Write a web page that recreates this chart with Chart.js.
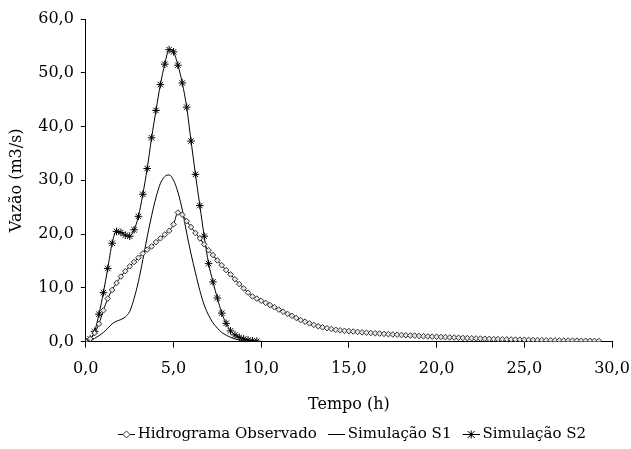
<!DOCTYPE html>
<html>
<head>
<meta charset="utf-8">
<script src="https://cdn.jsdelivr.net/npm/chart.js@4.4.1/dist/chart.umd.min.js"></script>
<style>
  html, body { margin: 0; padding: 0; background: #fff; }
  #wrap { width: 631px; height: 449px; }
</style>
</head>
<body>
<div id="wrap"><canvas id="c" width="631" height="449"></canvas></div>
<script>
// Time (h), 15-minute steps
const tempo = [
  0, 0.25, 0.5, 0.75, 1, 1.25, 1.5, 1.75, 2, 2.25, 2.5, 2.75, 3, 3.25, 3.5, 3.75,
  4, 4.25, 4.5, 4.75, 5, 5.25, 5.5, 5.75, 6, 6.25, 6.5, 6.75, 7, 7.25, 7.5, 7.75,
  8, 8.25, 8.5, 8.75, 9, 9.25, 9.5, 9.75, 10, 10.25, 10.5, 10.75, 11, 11.25, 11.5, 11.75,
  12, 12.25, 12.5, 12.75, 13, 13.25, 13.5, 13.75, 14, 14.25, 14.5, 14.75, 15, 15.25, 15.5, 15.75,
  16, 16.25, 16.5, 16.75, 17, 17.25, 17.5, 17.75, 18, 18.25, 18.5, 18.75, 19, 19.25, 19.5, 19.75,
  20, 20.25, 20.5, 20.75, 21, 21.25, 21.5, 21.75, 22, 22.25, 22.5, 22.75, 23, 23.25, 23.5, 23.75,
  24, 24.25, 24.5, 24.75, 25, 25.25, 25.5, 25.75, 26, 26.25, 26.5, 26.75, 27, 27.25, 27.5, 27.75,
  28, 28.25, 28.5, 28.75, 29, 29.25
];

// Hidrograma Observado (m3/s)
const observado = [
  0, 0.5, 1.6, 3.3, 5.8, 8.0, 9.6, 10.9, 12.1, 13.1, 14.0, 14.8, 15.6, 16.4, 17.1, 17.7,
  18.5, 19.2, 19.9, 20.6, 21.8, 24.0, 23.6, 22.4, 21.3, 20.2, 19.2, 18.1, 17.0, 16.1, 15.1, 14.2,
  13.3, 12.5, 11.6, 10.7, 9.9, 9.1, 8.4, 8.0, 7.6, 7.2, 6.8, 6.4, 5.95, 5.55, 5.15, 4.8,
  4.4, 4.0, 3.7, 3.4, 3.1, 2.85, 2.65, 2.5, 2.35, 2.2, 2.1, 2.0, 1.95, 1.88, 1.8, 1.72,
  1.65, 1.6, 1.55, 1.5, 1.43, 1.38, 1.33, 1.28, 1.22, 1.18, 1.14, 1.1, 1.05, 1.0, 0.96, 0.92,
  0.9, 0.86, 0.82, 0.78, 0.75, 0.72, 0.68, 0.65, 0.62, 0.59, 0.56, 0.53, 0.5, 0.48, 0.46, 0.44,
  0.42, 0.4, 0.38, 0.36, 0.34, 0.32, 0.3, 0.28, 0.26, 0.25, 0.24, 0.22, 0.21, 0.2, 0.19, 0.18,
  0.17, 0.16, 0.15, 0.14, 0.13, 0.12
];

// Simulação S1 (m3/s), from t = 0 to 9.5 h
const simulacaoS1 = [
  0, 0.2, 0.6, 1.1, 1.7, 2.5, 3.3, 3.8, 4.1, 4.6, 5.6, 8.0, 11.2, 15.2, 19.5, 23.4,
  26.8, 29.4, 30.7, 31.0, 30.0, 27.8, 24.5, 20.2, 16.3, 12.8, 9.5, 6.8, 4.9, 3.5, 2.5, 1.7,
  1.2, 0.8, 0.5, 0.3, 0.15, 0.05, 0
];

// Simulação S2 (m3/s), from t = 0 to 9.75 h
const simulacaoS2 = [
  0, 0.5, 1.9, 5.1, 9.1, 13.6, 18.3, 20.5, 20.3, 19.8, 19.6, 20.8, 23.3, 27.4, 32.2, 37.9,
  43.0, 47.8, 51.6, 54.3, 53.9, 51.4, 48.1, 43.6, 37.3, 31.1, 25.3, 19.6, 14.5, 11.1, 8.1, 5.3,
  3.4, 2.0, 1.25, 0.8, 0.5, 0.3, 0.15, 0.1
];

const seriesNames = ['Hidrograma Observado', 'Simulação S1', 'Simulação S2'];
const xTitle = 'Tempo (h)';
const yTitle = 'Vazão (m3/s)';

function pts(vals) {
  return vals.map((v, i) => ({ x: tempo[i], y: v }));
}
function fmt(v) { return Number(v).toFixed(1).replace('.', ','); }

const FONT = "'DejaVu Serif', 'Liberation Serif', serif";

// Legend swatches: a short line with the series marker on it (drawn in the right 17 px)
function swatch(kind) {
  const w = 28, h = 11, sw = 17;
  const c = document.createElement('canvas');
  c.width = w; c.height = h;
  const g = c.getContext('2d');
  const x0 = w - sw;
  const cx = x0 + sw / 2, cy = h / 2;
  g.strokeStyle = '#000';
  g.lineWidth = 1;
  g.beginPath(); g.moveTo(x0, cy); g.lineTo(w, cy); g.stroke();
  if (kind === 'diamond') {
    const r = 3.5;
    g.beginPath();
    g.moveTo(cx, cy - r); g.lineTo(cx + r, cy); g.lineTo(cx, cy + r); g.lineTo(cx - r, cy); g.closePath();
    g.fillStyle = '#fff'; g.fill();
    g.strokeStyle = '#333'; g.stroke();
  } else if (kind === 'star') {
    const r = 3.5;
    g.beginPath();
    g.moveTo(cx - r, cy - r); g.lineTo(cx + r, cy + r);
    g.moveTo(cx - r, cy + r); g.lineTo(cx + r, cy - r);
    g.moveTo(cx, cy - r - 0.5); g.lineTo(cx, cy + r + 0.5);
    g.stroke();
  }
  return c;
}
const swatches = [swatch('diamond'), swatch('line'), swatch('star')];

new Chart(document.getElementById('c'), {
  type: 'line',
  data: {
    datasets: [
      {
        label: seriesNames[0],
        data: pts(observado),
        borderColor: '#000',
        borderWidth: 1,
        pointStyle: 'rectRot',
        pointRadius: 2.8,
        pointBorderColor: '#333',
        pointBackgroundColor: '#e8e8e8',
        pointBorderWidth: 1,
        cubicInterpolationMode: 'monotone'
      },
      {
        label: seriesNames[1],
        data: pts(simulacaoS1),
        borderColor: '#000',
        borderWidth: 1,
        pointStyle: 'line',
        pointRadius: 0,
        pointHoverRadius: 0,
        cubicInterpolationMode: 'monotone'
      },
      {
        label: seriesNames[2],
        data: pts(simulacaoS2),
        borderColor: '#000',
        borderWidth: 1,
        pointStyle: 'star',
        pointRadius: 3.8,
        pointBorderColor: '#000',
        pointBackgroundColor: '#000',
        pointBorderWidth: 1,
        cubicInterpolationMode: 'monotone'
      }
    ]
  },
  options: {
    responsive: false,
    animation: false,
    devicePixelRatio: 1,
    layout: { padding: { top: 19, right: 0, left: 5, bottom: -3 } },
    plugins: {
      tooltip: { enabled: false },
      legend: {
        position: 'bottom',
        fullSize: false,
        labels: {
          usePointStyle: true,
          pointStyleWidth: 18.5,
          color: '#000',
          font: { family: FONT, size: 15 },
          boxHeight: 8,
          padding: 5,
          generateLabels(chart) {
            const items = Chart.defaults.plugins.legend.labels.generateLabels(chart);
            items.forEach((it, i) => { it.pointStyle = swatches[i]; });
            return items;
          }
        }
      }
    },
    scales: {
      x: {
        type: 'linear',
        min: 0, max: 30,
        border: { display: true, color: '#000', width: 1 },
        grid: { display: true, drawOnChartArea: false, drawTicks: true, tickLength: 6, color: '#000' },
        ticks: { stepSize: 5, color: '#000', font: { family: FONT, size: 16 }, padding: 12, callback: fmt, maxRotation: 0 },
        title: { display: true, text: xTitle, color: '#000', font: { family: FONT, size: 16 }, padding: { top: 4, bottom: 8 } },
        afterFit(scale) { scale.paddingRight = 19; }
      },
      y: {
        type: 'linear',
        min: 0, max: 60,
        border: { display: true, color: '#000', width: 1 },
        grid: { display: true, drawOnChartArea: false, drawTicks: true, tickLength: 5, color: '#000' },
        ticks: { stepSize: 10, color: '#000', font: { family: FONT, size: 16 }, padding: 7, callback: fmt },
        title: { display: true, text: yTitle, color: '#000', font: { family: FONT, size: 16 }, padding: { top: 2, bottom: 5 } }
      }
    }
  }
});
</script>
</body>
</html>
